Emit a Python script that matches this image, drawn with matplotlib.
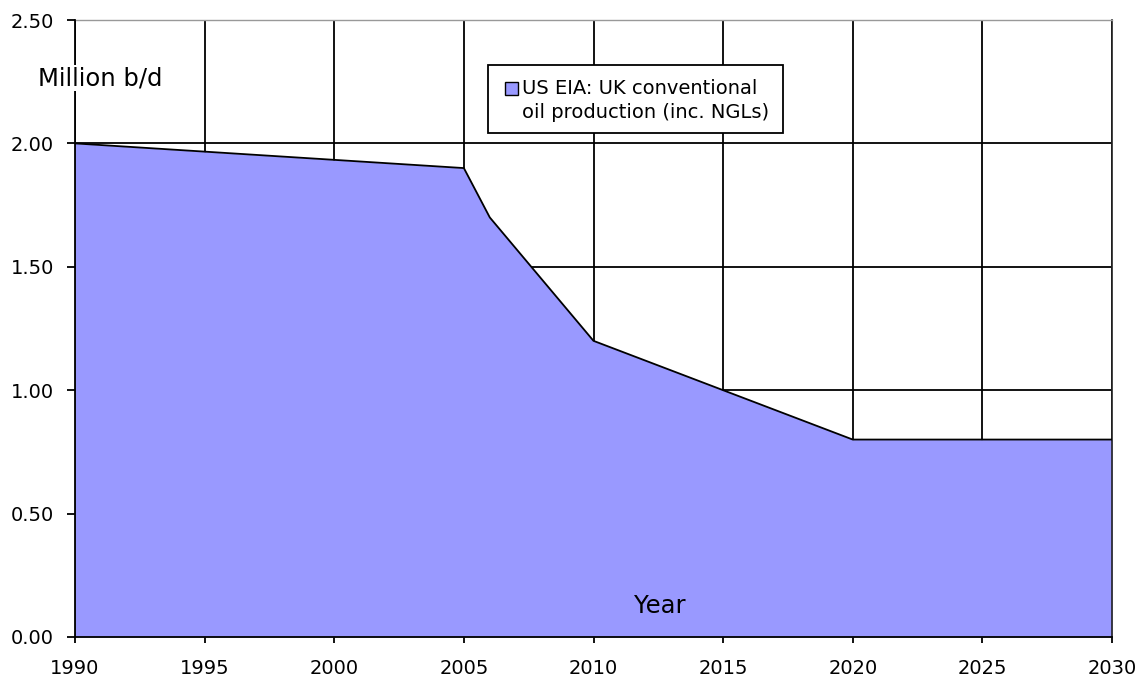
import matplotlib
matplotlib.use("Agg")
import matplotlib.pyplot as plt
from matplotlib.patches import Rectangle

years = [1990, 2005, 2006, 2010, 2015, 2020, 2030]
production = [2.00, 1.90, 1.70, 1.20, 1.00, 0.80, 0.80]
x_ticks = [1990, 1995, 2000, 2005, 2010, 2015, 2020, 2025, 2030]
y_ticks = [0.0, 0.5, 1.0, 1.5, 2.0, 2.5]
legend_lines = ["US EIA: UK conventional", "oil production (inc. NGLs)"]
fill_color = '#9999FF'

plt.rcParams['font.family'] = ['DejaVu Sans']

W, H = 1142, 681
fig = plt.figure(figsize=(W / 100, H / 100), dpi=100)


def fx(px):
    return px / W


def fy(py):
    return 1 - py / H


ax = fig.add_axes([fx(75), fy(637), fx(1112) - fx(75), fy(20) - fy(637)])

ax.fill_between(years, production, 0, color=fill_color, linewidth=0, zorder=2)
ax.plot(years, production, color='black', linewidth=1.3, zorder=3)

ax.set_xlim(1990, 2030)
ax.set_ylim(0, 2.5)
ax.set_xticks(x_ticks)
ax.set_yticks(y_ticks)
ax.set_yticklabels([f"{v:.2f}" for v in y_ticks])
ax.grid(True, color='black', linewidth=1.3, zorder=1)
ax.set_axisbelow(True)
ax.spines['top'].set_color('#999999')
ax.spines['top'].set_linewidth(1.0)
ax.spines['right'].set_color('#222222')
ax.spines['right'].set_linewidth(1.2)
for s in ['left', 'bottom']:
    ax.spines[s].set_color('black')
    ax.spines[s].set_linewidth(1.3)
    ax.spines[s].set_zorder(4)
ax.tick_params(axis='both', labelsize=14, direction='out', width=1.3, colors='black')
ax.tick_params(axis='x', length=4.5, pad=11)
ax.tick_params(axis='y', length=6, pad=9)

fig.text(fx(100), fy(78), "Million b/d", fontsize=17.5, ha='center', va='center',
         zorder=5, bbox=dict(facecolor='white', edgecolor='none', pad=1))
fig.text(fx(660), fy(606), "Year", fontsize=17.5, ha='center', va='center', zorder=5)

# legend box
fig.add_artist(Rectangle((fx(488), fy(133)), fx(783) - fx(488), fy(65) - fy(133),
                         transform=fig.transFigure, facecolor='white',
                         edgecolor='black', linewidth=1.3, zorder=6))
fig.add_artist(Rectangle((fx(505), fy(95)), fx(518) - fx(505), fy(82) - fy(95),
                         transform=fig.transFigure, facecolor=fill_color,
                         edgecolor='black', linewidth=1.0, zorder=7))
fig.text(fx(522), fy(89), legend_lines[0], fontsize=14, ha='left', va='center', zorder=7)
fig.text(fx(522), fy(112), legend_lines[1], fontsize=14, ha='left', va='center', zorder=7)

fig.savefig("out.png", dpi=100)
